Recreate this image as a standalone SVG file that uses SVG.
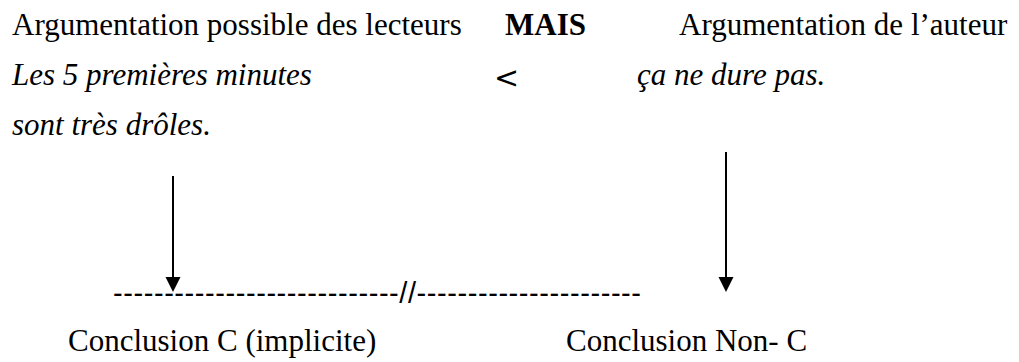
<svg xmlns="http://www.w3.org/2000/svg" width="1019" height="362" viewBox="0 0 1019 362">
<defs>
<style>
text{font-family:"Liberation Serif","Times New Roman",serif;font-size:31px;fill:#000}
.i{font-style:italic}
.b{font-weight:bold}
.s{font-family:"Liberation Sans",Arial,sans-serif}
.d{font-family:"DejaVu Sans",sans-serif}
.ln{stroke:#000;stroke-width:2;fill:none}
.hd{fill:#000}
</style>
</defs>
<rect width="1019" height="362" fill="#fff"/>
<g id="lecteurs">
<text x="12" y="35">Argumentation possible des lecteurs</text>
<text class="i" x="12" y="85">Les 5 premières minutes</text>
<text class="i" x="12" y="135">sont très drôles.</text>
</g>
<g id="mais">
<text class="b" x="505" y="35">MAIS</text>
<text class="d" x="494" y="88" style="font-size:30px">&lt;</text>
</g>
<g id="auteur">
<text x="679" y="35">Argumentation de l’auteur</text>
<text class="i" x="637" y="85">ça ne dure pas.</text>
</g>
<g id="separation">
<text class="s" x="113" y="303" style="font-size:29px" textLength="528" lengthAdjust="spacing">----------------------------//----------------------</text>
</g>
<g id="conclusionC">
<text x="68" y="351">Conclusion C (implicite)</text>
</g>
<g id="conclusionNonC">
<text x="566" y="351">Conclusion Non- C</text>
</g>
<g id="connectors">
<line class="ln" x1="173" y1="176" x2="173" y2="280"/>
<polygon class="hd" points="165.5,277 180.5,277 173,292"/>
<line class="ln" x1="726" y1="152" x2="726" y2="280"/>
<polygon class="hd" points="718.5,277 733.5,277 726,292"/>
</g>
</svg>
